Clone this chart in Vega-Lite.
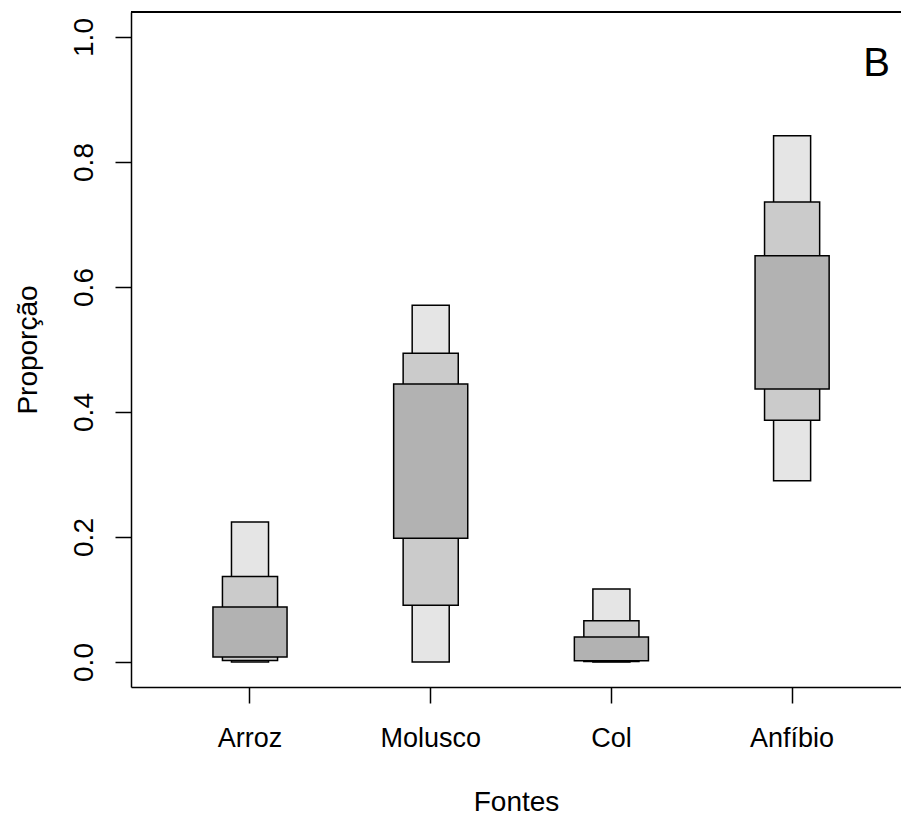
{
  "$schema": "https://vega.github.io/schema/vega-lite/v6.json",
  "width": 770,
  "height": 675,
  "autosize": {"type": "none"},
  "padding": {"left": 131, "top": 12, "right": 0, "bottom": 134},
  "background": "white",
  "config": {
    "view": {"stroke": null},
    "font": "Liberation Sans",
    "axis": {
      "grid": false,
      "domainColor": "black",
      "domainWidth": 1.5,
      "tickColor": "black",
      "tickWidth": 1.5,
      "tickSize": 16,
      "labelColor": "black",
      "labelFont": "Liberation Sans",
      "titleFont": "Liberation Sans",
      "titleColor": "black",
      "titleFontWeight": "normal"
    }
  },
  "title": {
    "text": "B",
    "orient": "top",
    "anchor": "end",
    "frame": "group",
    "fontSize": 40,
    "fontWeight": "normal",
    "font": "Liberation Sans",
    "color": "black",
    "baseline": "alphabetic",
    "offset": -65,
    "dx": -11,
    "dy": 40
  },
  "data": {
    "values": [
      {"fonte": "Arroz", "nivel": "95", "lo": 0.0, "hi": 0.224},
      {"fonte": "Arroz", "nivel": "75", "lo": 0.0025, "hi": 0.137},
      {"fonte": "Arroz", "nivel": "50", "lo": 0.008, "hi": 0.088},
      {"fonte": "Molusco", "nivel": "95", "lo": 0.0, "hi": 0.571},
      {"fonte": "Molusco", "nivel": "75", "lo": 0.091, "hi": 0.494},
      {"fonte": "Molusco", "nivel": "50", "lo": 0.198, "hi": 0.445},
      {"fonte": "Col", "nivel": "95", "lo": 0.0, "hi": 0.117},
      {"fonte": "Col", "nivel": "75", "lo": 0.0008, "hi": 0.066},
      {"fonte": "Col", "nivel": "50", "lo": 0.002, "hi": 0.040},
      {"fonte": "Anfíbio", "nivel": "95", "lo": 0.290, "hi": 0.842},
      {"fonte": "Anfíbio", "nivel": "75", "lo": 0.387, "hi": 0.736},
      {"fonte": "Anfíbio", "nivel": "50", "lo": 0.437, "hi": 0.650}
    ]
  },
  "encoding": {
    "x": {
      "field": "fonte",
      "type": "nominal",
      "sort": ["Arroz", "Molusco", "Col", "Anfíbio"],
      "scale": {"paddingInner": 0, "paddingOuter": 0.1306, "align": 0.607},
      "axis": {
        "title": "Fontes",
        "labelAngle": 0,
        "labelFontSize": 27,
        "titleFontSize": 28,
        "labelPadding": 22,
        "titlePadding": 37
      }
    },
    "y": {
      "field": "lo",
      "type": "quantitative",
      "scale": {"domain": [-0.04, 1.04], "nice": false, "zero": false},
      "axis": {
        "title": "Proporção",
        "values": [0, 0.2, 0.4, 0.6, 0.8, 1.0],
        "format": ".1f",
        "labelAngle": -90,
        "labelAlign": "center",
        "labelBaseline": "bottom",
        "labelFontSize": 28,
        "titleFontSize": 28,
        "labelPadding": 17,
        "titlePadding": 28
      }
    },
    "y2": {"field": "hi"}
  },
  "layer": [
    {
      "transform": [{"filter": "datum.nivel == '95'"}],
      "mark": {"type": "bar", "width": {"band": 0.205}, "fill": "#e5e5e5", "stroke": "black", "strokeWidth": 1.5}
    },
    {
      "transform": [{"filter": "datum.nivel == '75'"}],
      "mark": {"type": "bar", "width": {"band": 0.305}, "fill": "#cbcbcb", "stroke": "black", "strokeWidth": 1.5}
    },
    {
      "transform": [{"filter": "datum.nivel == '50'"}],
      "mark": {"type": "bar", "width": {"band": 0.41}, "fill": "#b2b2b2", "stroke": "black", "strokeWidth": 1.5}
    },
    {
      "mark": {"type": "rule", "color": "black", "strokeWidth": 1.5},
      "encoding": {"y": {"datum": 1.04}, "x": null, "y2": null}
    }
  ]
}
